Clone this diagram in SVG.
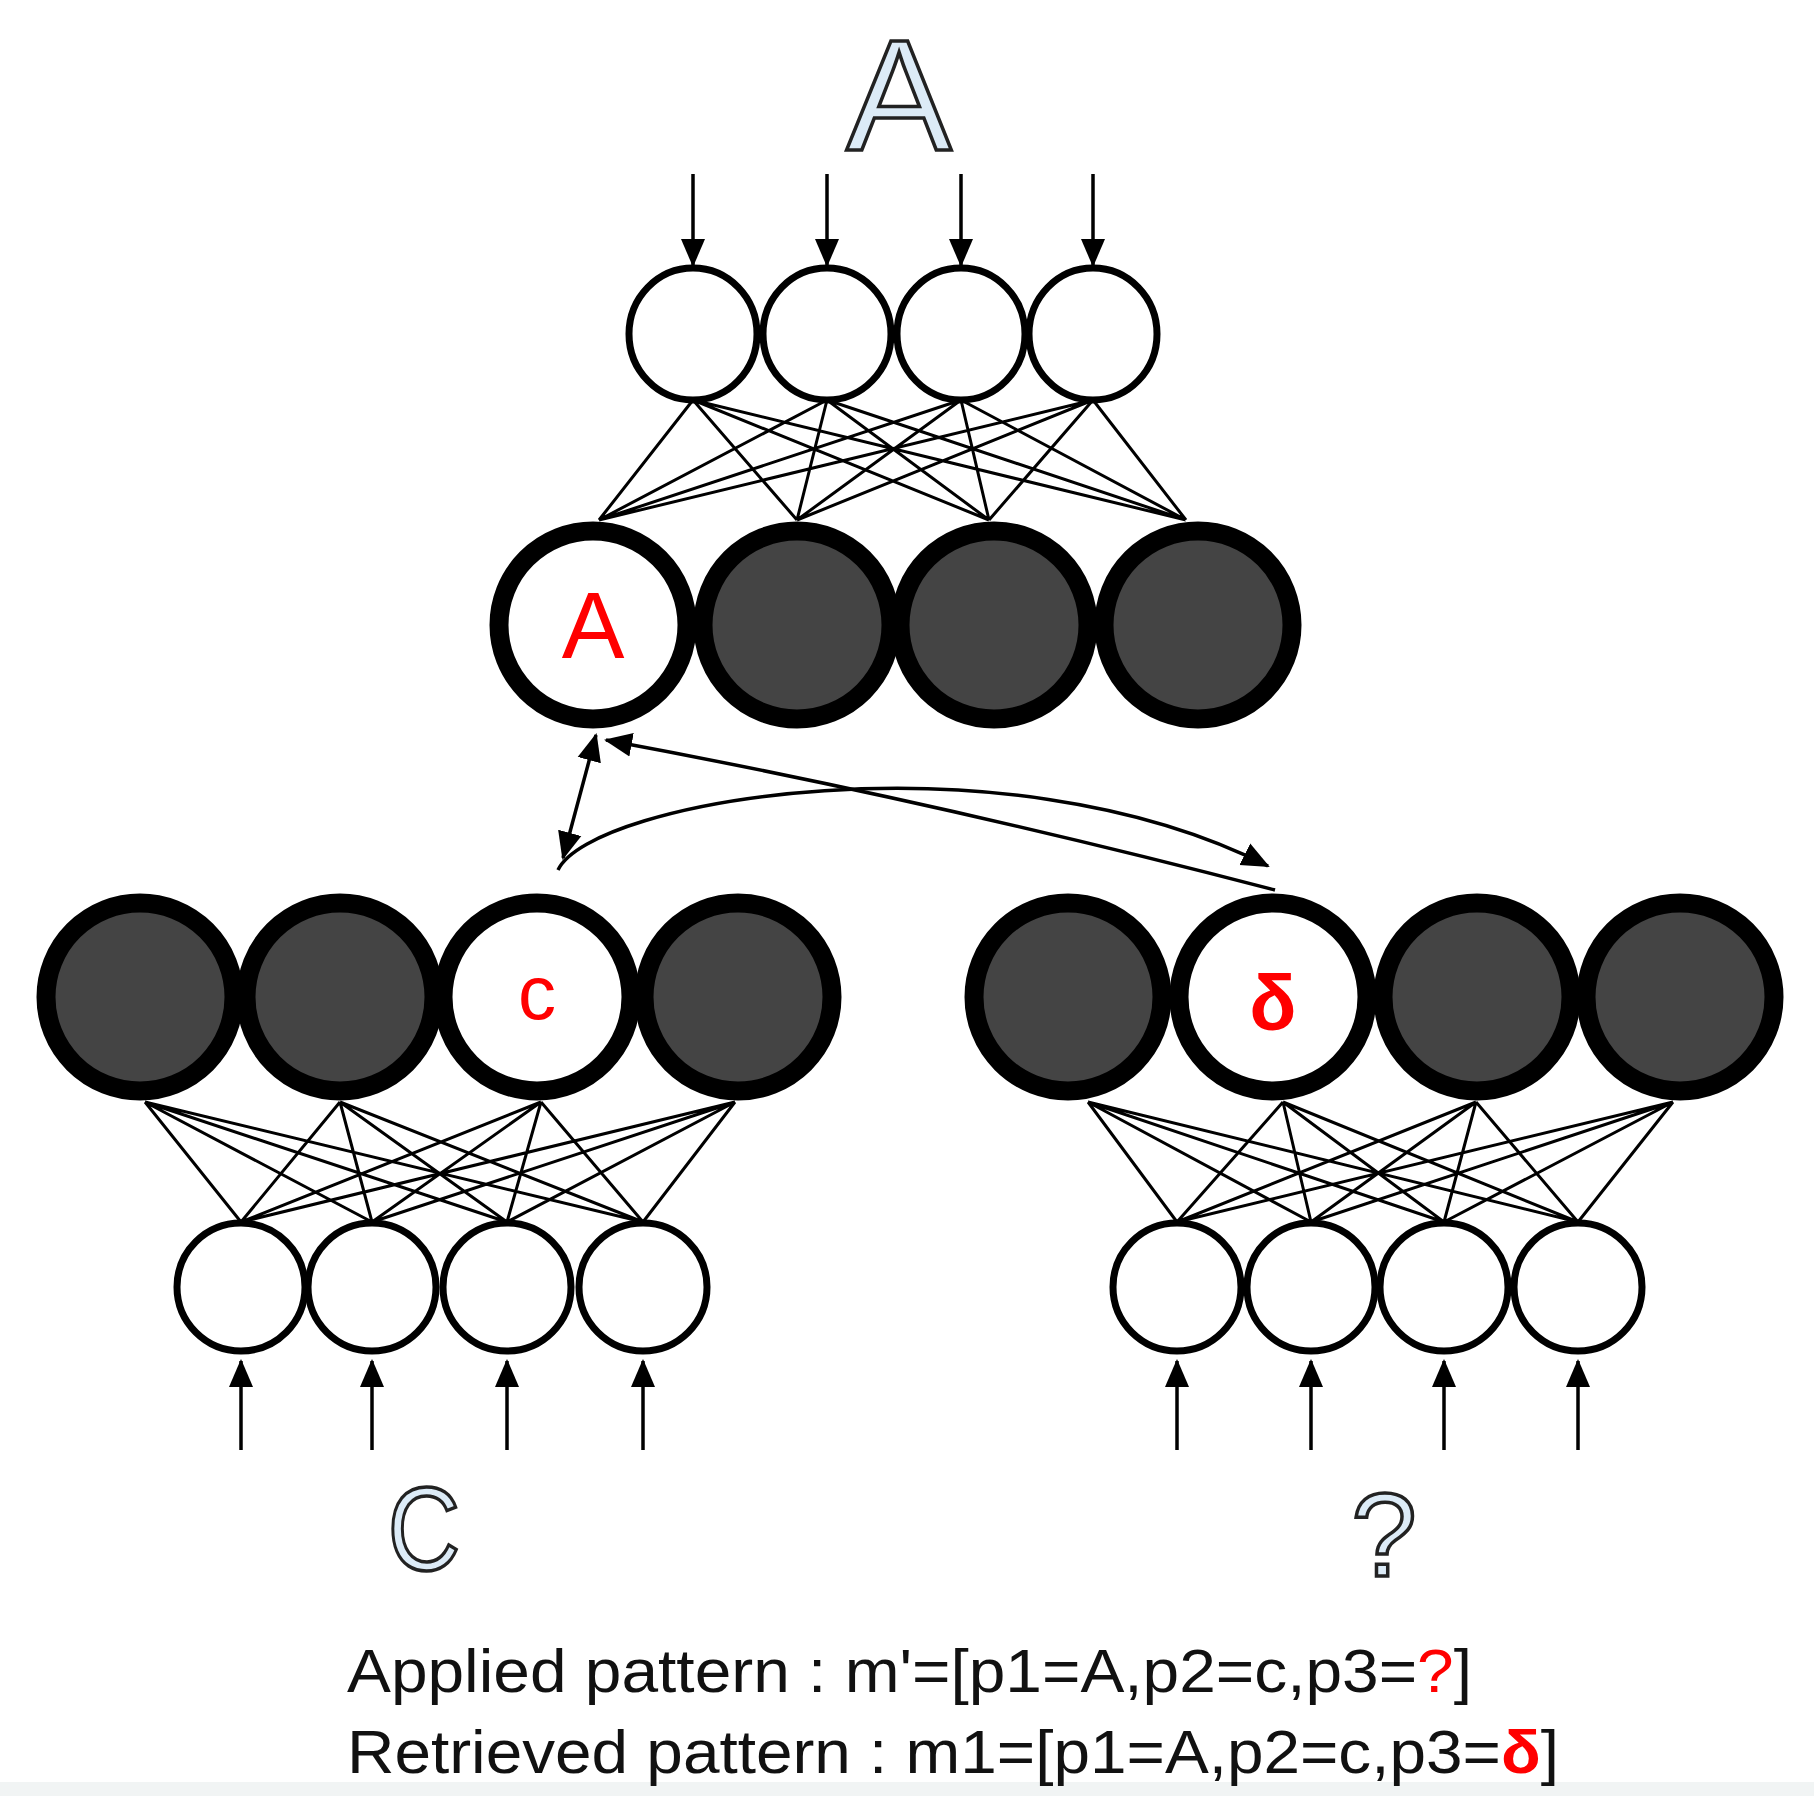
<svg xmlns="http://www.w3.org/2000/svg" width="1814" height="1796" viewBox="0 0 1814 1796">
<style>
.s{fill:#fff;stroke:#000;stroke-width:7}
.b{fill:#444;stroke:#000;stroke-width:19}
.w{fill:#fff;stroke:#000;stroke-width:19}
.ln{stroke:#000;stroke-width:3;fill:none}
.ar{stroke:#000;stroke-width:3.5;fill:none}
.big{font-family:"Liberation Sans",Arial,sans-serif;fill:#dcebf7;stroke:#222;stroke-width:3.5}
.red{font-family:"Liberation Sans",Arial,sans-serif;fill:#f00;text-anchor:middle}
.cap{font-family:"Liberation Sans",Arial,sans-serif;fill:#111;font-size:62px}
</style>
<defs>
<marker id="ah" markerUnits="userSpaceOnUse" markerWidth="28" markerHeight="28" viewBox="0 0 28 28" refX="26" refY="14" orient="auto-start-reverse">
<path d="M0,2 L28,14 L0,26 Z" fill="#000"/>
</marker>
</defs>
<rect width="1814" height="1796" fill="#fff"/>
<rect x="0" y="1782" width="1814" height="14" fill="#f1f4f4"/>
<text class="big" x="899" y="150" font-size="158" text-anchor="middle">A</text>
<text class="big" x="424" y="1570" font-size="118" text-anchor="middle" transform="translate(424,0) scale(0.85,1) translate(-424,0)">C</text>
<text class="big" x="1384" y="1576" font-size="118" text-anchor="middle">?</text>
<g id="connectors">
<g class="ln">
<path d="M693,400L599,520M693,400L797,520M693,400L989,520M693,400L1186,520M827,400L599,520M827,400L797,520M827,400L989,520M827,400L1186,520M961,400L599,520M961,400L797,520M961,400L989,520M961,400L1186,520M1093,400L599,520M1093,400L797,520M1093,400L989,520M1093,400L1186,520"/>
<path d="M145,1102L241,1222M145,1102L372,1222M145,1102L507,1222M145,1102L643,1222M340,1102L241,1222M340,1102L372,1222M340,1102L507,1222M340,1102L643,1222M541,1102L241,1222M541,1102L372,1222M541,1102L507,1222M541,1102L643,1222M735,1102L241,1222M735,1102L372,1222M735,1102L507,1222M735,1102L643,1222"/>
<path d="M1088,1102L1177,1222M1088,1102L1311,1222M1088,1102L1444,1222M1088,1102L1578,1222M1283,1102L1177,1222M1283,1102L1311,1222M1283,1102L1444,1222M1283,1102L1578,1222M1476,1102L1177,1222M1476,1102L1311,1222M1476,1102L1444,1222M1476,1102L1578,1222M1673,1102L1177,1222M1673,1102L1311,1222M1673,1102L1444,1222M1673,1102L1578,1222"/>
</g>
<g class="ar" marker-end="url(#ah)">
<path d="M693,174V265"/><path d="M827,174V265"/><path d="M961,174V265"/><path d="M1093,174V265"/>
<path d="M241,1450V1361"/><path d="M372,1450V1361"/><path d="M507,1450V1361"/><path d="M643,1450V1361"/>
<path d="M1177,1450V1361"/><path d="M1311,1450V1361"/><path d="M1444,1450V1361"/><path d="M1578,1450V1361"/>
<path d="M1275,890 Q 930,800 606,740"/>
<path d="M558,870 C 590,800 1000,730 1268,866"/>
<path d="M563,858 L596,735" marker-start="url(#ah)"/>
</g>
</g>
<g id="top-inputs">
<ellipse class="s" cx="693" cy="334" rx="64" ry="66"/>
<ellipse class="s" cx="827" cy="334" rx="64" ry="66"/>
<ellipse class="s" cx="961" cy="334" rx="64" ry="66"/>
<ellipse class="s" cx="1093" cy="334" rx="64" ry="66"/>
</g>
<g id="top-layer">
<circle class="w" cx="593" cy="625" r="94"/>
<circle class="b" cx="797" cy="625" r="94"/>
<circle class="b" cx="994" cy="625" r="94"/>
<circle class="b" cx="1198" cy="625" r="94"/>
<text class="red" x="593" y="658" font-size="94">A</text>
</g>
<g id="left-layer">
<circle class="b" cx="140" cy="997" r="94"/>
<circle class="b" cx="340" cy="997" r="94"/>
<circle class="w" cx="537" cy="997" r="94"/>
<circle class="b" cx="738" cy="997" r="94"/>
<text class="red" x="537" y="1019" font-size="76">c</text>
</g>
<g id="left-inputs">
<circle class="s" cx="241" cy="1287" r="64"/>
<circle class="s" cx="372" cy="1287" r="64"/>
<circle class="s" cx="507" cy="1287" r="64"/>
<circle class="s" cx="643" cy="1287" r="64"/>
</g>
<g id="right-layer">
<circle class="b" cx="1068" cy="997" r="94"/>
<circle class="w" cx="1273" cy="997" r="94"/>
<circle class="b" cx="1477" cy="997" r="94"/>
<circle class="b" cx="1680" cy="997" r="94"/>
<text class="red" x="1273" y="1030" font-size="78" font-weight="bold">δ</text>
</g>
<g id="right-inputs">
<circle class="s" cx="1177" cy="1287" r="64"/>
<circle class="s" cx="1311" cy="1287" r="64"/>
<circle class="s" cx="1444" cy="1287" r="64"/>
<circle class="s" cx="1578" cy="1287" r="64"/>
</g>
<g id="caption">
<text class="cap" x="347" y="1692" textLength="1125" lengthAdjust="spacingAndGlyphs">Applied pattern : m'=[p1=A,p2=c,p3=<tspan fill="#f00">?</tspan>]</text>
<text class="cap" x="347" y="1773" textLength="1212" lengthAdjust="spacingAndGlyphs">Retrieved pattern : m1=[p1=A,p2=c,p3=<tspan fill="#f00" font-weight="bold">δ</tspan>]</text>
</g>
</svg>
